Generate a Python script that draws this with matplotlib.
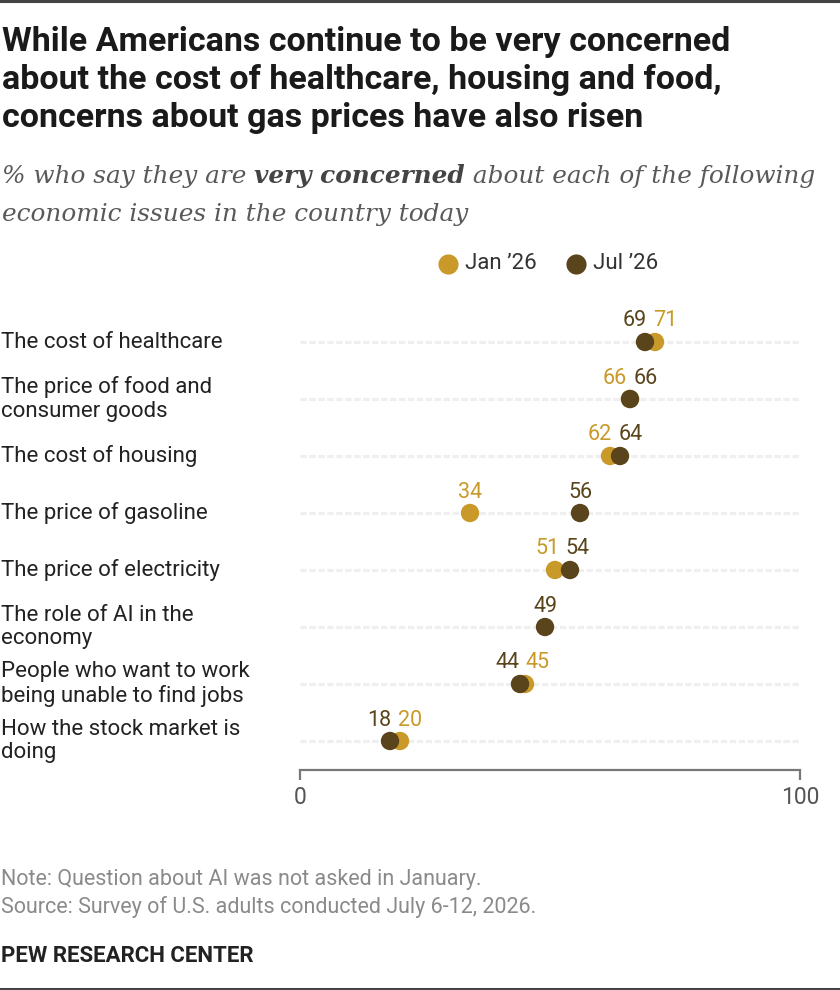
import matplotlib
matplotlib.use("Agg")
import matplotlib.pyplot as plt
from matplotlib.lines import Line2D

# --- data ---
categories = [
    "The cost of healthcare",
    "The price of food and\nconsumer goods",
    "The cost of housing",
    "The price of gasoline",
    "The price of electricity",
    "The role of AI in the\neconomy",
    "People who want to work\nbeing unable to find jobs",
    "How the stock market is\ndoing",
]
jan_26 = [71, 66, 62, 34, 51, None, 45, 20]
jul_26 = [69, 66, 64, 56, 54, 49, 44, 18]
series_names = ["Jan \u201926", "Jul \u201926"]

GOLD = "#C99A2A"
DARK = "#5A441C"
W, H = 840, 990

fig = plt.figure(figsize=(W / 100, H / 100), dpi=100)


def fx(x):
    return x / W


def fy(y):
    return 1 - y / H


SANS = ["Roboto", "DejaVu Sans"]
SERIF = ["DejaVu Serif"]

# top and bottom rules
fig.add_artist(Line2D([0, 1], [fy(1), fy(1)], color="#444444", lw=2.2))
fig.add_artist(Line2D([0, 1], [fy(988.5), fy(988.5)], color="#444444", lw=2.2))

# title
title_lines = ["While Americans continue to be very concerned",
               "about the cost of healthcare, housing and food,",
               "concerns about gas prices have also risen"]
for ty, line in zip([42, 80, 118], title_lines):
    fig.text(fx(2), fy(ty), line, ha="left", va="center",
             fontsize=24.5, fontweight="bold", family=SANS, color="#1a1a1a")

# subtitle with bold part
renderer = fig.canvas.get_renderer()
sub_kw = dict(fontsize=17.8, family=SERIF, style="italic", va="center")
x0 = fx(2)
t1 = fig.text(x0, fy(176), "% who say they are ", color="#595959", **sub_kw)
w1 = t1.get_window_extent(renderer).width / W
t2 = fig.text(x0 + w1, fy(176), "very concerned", color="#444444",
              fontweight="bold", **sub_kw)
w2 = t2.get_window_extent(renderer).width / W
fig.text(x0 + w1 + w2, fy(176), " about each of the following",
         color="#595959", **sub_kw)
fig.text(x0, fy(214), "economic issues in the country today", color="#595959",
         **sub_kw)

# legend
for cx, col, name in [(448, GOLD, series_names[0]), (576, DARK, series_names[1])]:
    fig.add_artist(Line2D([fx(cx)], [fy(264)], marker="o", ms=14.5, color=col,
                          mec="none", ls="none"))
    fig.text(fx(cx + 17), fy(264), name, ha="left", va="center",
             fontsize=16, family=SANS, color="#333333")

# axes
ax = fig.add_axes([fx(300), fy(770), fx(800) - fx(300), (770 - 300) / H])
rows = list(range(len(categories)))
ax.set_xlim(0, 100)
ax.set_ylim((770 - 342) / 57, (300 - 342) / 57)

for r in rows:
    ax.plot([0, 100], [r, r], color="#efefef", lw=2.3,
            linestyle=(0, (2.0, 0.8)), solid_capstyle="butt", zorder=1)

jx = [v for v in jan_26 if v is not None]
jy = [r for r, v in zip(rows, jan_26) if v is not None]
ax.scatter(jx, jy, s=175, color=GOLD, edgecolors="none", zorder=3, clip_on=False)
ax.scatter(jul_26, rows, s=175, color=DARK, edgecolors="none", zorder=4, clip_on=False)

lab_kw = dict(textcoords="offset points", va="center", fontsize=15.5,
              family=SANS, annotation_clip=False)
dy = 21 * 0.72
for r, a, b in zip(rows, jan_26, jul_26):
    if a is None:
        ax.annotate(str(b), (b, r), xytext=(0, dy), ha="center", color=DARK, **lab_kw)
        continue
    if abs(a - b) < 5:
        m = (a + b) / 2
        if b < a:
            lo, hi = (b, DARK), (a, GOLD)
        else:
            lo, hi = (a, GOLD), (b, DARK)
        ax.annotate(str(lo[0]), (m, r), xytext=(-2.3, dy), ha="right",
                    color=lo[1], **lab_kw)
        ax.annotate(str(hi[0]), (m, r), xytext=(2.3, dy), ha="left",
                    color=hi[1], **lab_kw)
    else:
        ax.annotate(str(a), (a, r), xytext=(0, dy), ha="center", color=GOLD, **lab_kw)
        ax.annotate(str(b), (b, r), xytext=(0, dy), ha="center", color=DARK, **lab_kw)

# category labels
for r, c in zip(rows, categories):
    ax.annotate(c, xy=(fx(1), r), xycoords=("figure fraction", "data"),
                ha="left", va="center", fontsize=16, family=SANS,
                color="#222222", linespacing=1.15, annotation_clip=False)

for side in ["top", "left", "right"]:
    ax.spines[side].set_visible(False)
ax.spines["bottom"].set_color("#777777")
ax.spines["bottom"].set_linewidth(1.6)
ax.set_yticks([])
ax.set_xticks([0, 100])
ax.set_xticklabels(["0", "100"], fontsize=16.5, family=SANS, color="#555555")
ax.tick_params(axis="x", length=7.5, width=1.6, color="#777777", pad=4)
ax.patch.set_alpha(0)

# notes
fig.text(fx(1), fy(879), "Note: Question about AI was not asked in January.",
         ha="left", va="center", fontsize=15.5, family=SANS, color="#8a8a8a")
fig.text(fx(1), fy(907), "Source: Survey of U.S. adults conducted July 6-12, 2026.",
         ha="left", va="center", fontsize=15.5, family=SANS, color="#8a8a8a")
fig.text(fx(1), fy(956), "PEW RESEARCH CENTER", ha="left", va="center",
         fontsize=16, fontweight="bold", family=SANS, color="#222222")

fig.savefig("out.png", dpi=100)
